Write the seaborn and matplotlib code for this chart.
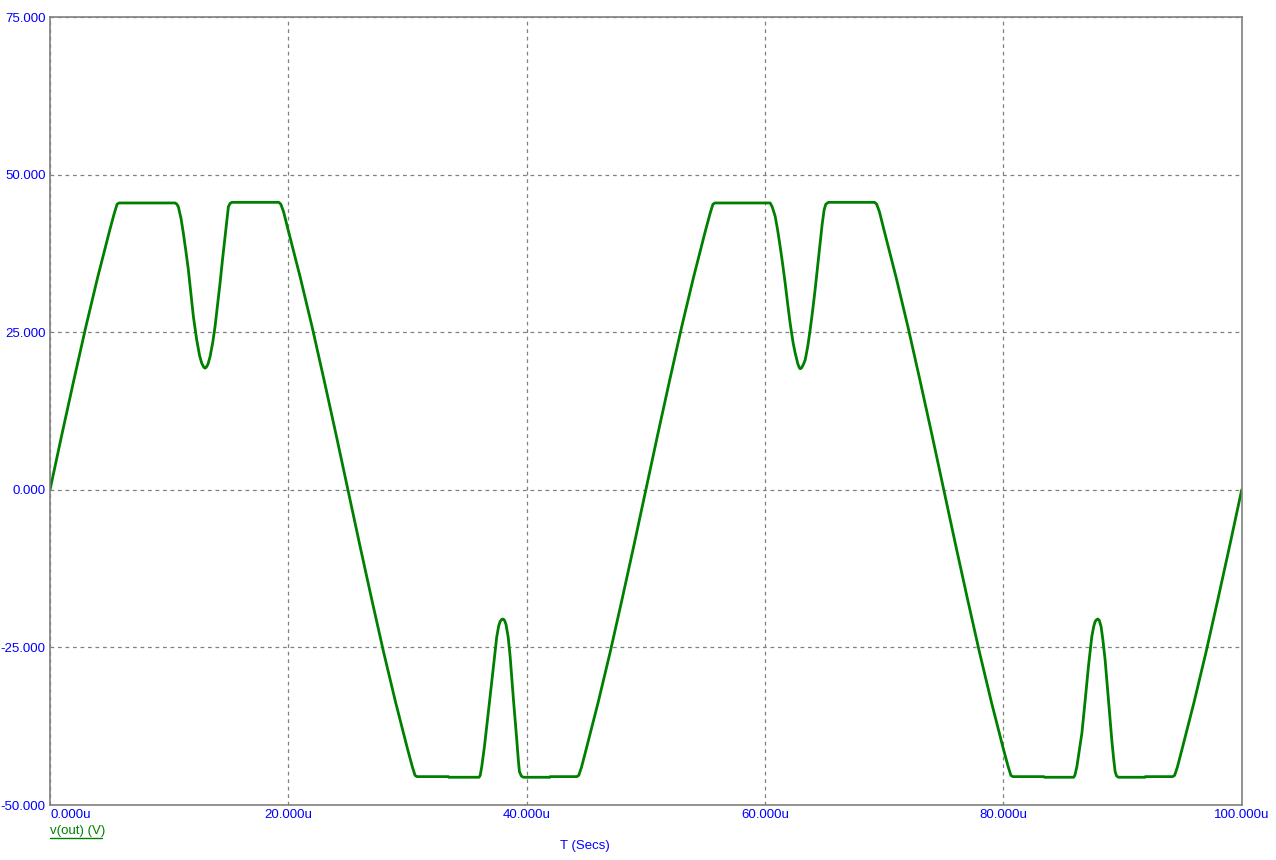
import pandas as pd
import matplotlib
matplotlib.use("Agg")
import matplotlib.pyplot as plt
import seaborn as sns

# time in microseconds
t_us = [0, 1.0, 2.0, 3.0, 4.0, 5.0, 5.4, 5.63, 5.8,
        10.5, 10.65, 10.77, 11.0, 11.19, 11.4, 11.61, 11.82, 12.03, 12.31, 12.55, 12.73, 12.9,
        13.0, 13.1, 13.25, 13.43, 13.65, 13.85, 14.06, 14.27, 14.48, 14.69, 14.85, 14.97, 15.1, 15.25,
        19.2, 19.37, 19.6, 20.0, 21.0, 22.0, 23.0, 24.0, 25.0, 26.0, 27.0, 28.0, 29.0, 30.0,
        30.4, 30.63, 30.8, 33.43, 33.45,
        36.0, 36.1, 36.23, 36.45, 36.65, 36.93, 37.21, 37.49, 37.65, 37.77, 37.88, 37.99, 38.1,
        38.18, 38.27, 38.45, 38.61, 38.89, 39.17, 39.3, 39.39, 39.55, 39.72,
        41.96, 41.98, 44.2, 44.37, 44.6, 45.0, 46.0, 47.0, 48.0, 49.0, 50.0,
        51.0, 52.0, 53.0, 54.0, 55.0, 55.4, 55.63, 55.8,
        60.43, 60.6, 60.85, 61.05, 61.27, 61.48, 61.69, 61.9, 62.11, 62.35, 62.53, 62.75, 62.87,
        62.95, 63.05, 63.2, 63.37, 63.58, 63.79, 64.0, 64.2, 64.42, 64.62, 64.8, 64.96, 65.1, 65.32,
        69.2, 69.37, 69.6, 70.0, 71.0, 72.0, 73.0, 74.0, 75.0, 76.0, 77.0, 78.0, 79.0, 80.0,
        80.4, 80.63, 80.8, 83.4, 83.45,
        85.9, 86.0, 86.17, 86.4, 86.59, 86.87, 87.14, 87.42, 87.58, 87.7, 87.82, 87.93, 88.05,
        88.2, 88.35, 88.54, 88.82, 89.1, 89.25, 89.38, 89.5, 89.66,
        91.9, 91.92, 94.2, 94.37, 94.6, 95.0, 96.0, 97.0, 98.0, 99.0, 100.0]
v_out = [0, 8.8, 17.4, 25.8, 33.7, 41.1, 43.9, 45.3, 45.5,
         45.5, 45.3, 44.9, 43.0, 40.7, 37.9, 34.9, 31.2, 27.5, 23.8, 21.3, 20.1, 19.45,
         19.3, 19.4, 19.9, 21.1, 23.3, 25.9, 29.3, 32.8, 36.6, 40.2, 43.0, 44.9, 45.4, 45.6,
         45.6, 45.3, 44.1, 41.1, 33.7, 25.8, 17.4, 8.8, 0.0, -8.8, -17.4, -25.8, -33.7, -41.1,
         -43.9, -45.3, -45.5, -45.5, -45.6,
         -45.6, -45.3, -43.9, -40.8, -37.5, -32.8, -28.0, -23.3, -21.6, -20.9, -20.6, -20.5, -20.6,
         -20.9, -21.4, -23.4, -26.4, -33.3, -39.7, -42.9, -44.7, -45.4, -45.6,
         -45.6, -45.5, -45.5, -45.3, -44.0, -41.1, -33.7, -25.8, -17.4, -8.8, 0.0,
         8.8, 17.4, 25.8, 33.7, 41.1, 43.9, 45.3, 45.5,
         45.5, 44.9, 43.4, 41.3, 38.6, 35.8, 32.8, 29.5, 26.4, 23.4, 21.7, 20.0, 19.4,
         19.2, 19.3, 19.8, 20.6, 22.7, 25.4, 28.5, 31.7, 35.5, 39.1, 42.2, 44.4, 45.3, 45.6,
         45.6, 45.3, 44.1, 41.1, 33.7, 25.8, 17.4, 8.8, 0.0, -8.8, -17.4, -25.8, -33.7, -41.1,
         -43.9, -45.3, -45.5, -45.5, -45.6,
         -45.6, -45.3, -43.9, -41.0, -38.6, -33.3, -28.0, -23.3, -21.7, -20.9, -20.6, -20.5, -20.7,
         -21.7, -23.8, -27.0, -33.3, -39.7, -42.6, -44.7, -45.4, -45.6,
         -45.6, -45.5, -45.5, -45.3, -44.0, -41.1, -33.7, -25.8, -17.4, -8.8, 0.0]

x_ticks = [0, 20, 40, 60, 80, 100]
y_ticks = [-50, -25, 0, 25, 50, 75]

df = pd.DataFrame({"t": t_us, "v": v_out})

sns.set_style("white")
plt.rcParams['font.family'] = ['Liberation Sans', 'DejaVu Sans']

fig = plt.figure(figsize=(12.76, 8.6), dpi=100)
ax = fig.add_axes([50 / 1276, 55 / 860, 1191.7 / 1276, 788 / 860])

sns.lineplot(data=df, x="t", y="v", ax=ax, color="#008000", linewidth=2.0,
             estimator=None, sort=False)

ax.set_xlim(0, 100)
ax.set_ylim(-50, 75)
ax.set_xticks(x_ticks)
ax.set_yticks(y_ticks)
ax.set_xticklabels([f"{x:.3f}u" for x in x_ticks])
ax.set_yticklabels([f"{y:.3f}" for y in y_ticks])
ax.tick_params(length=0, labelsize=9.5, labelcolor="#0000FF", pad=3)
ax.get_xticklabels()[0].set_ha("left")
ax.set_xlabel("")
ax.set_ylabel("")
ax.grid(True, linestyle=(0, (3, 3)), color="#808080", linewidth=0.9)
for s in ax.spines.values():
    s.set_color("#808080")
    s.set_linewidth(1.2)

fig.text(585 / 1276, 1 - 846 / 860, "T (Secs)", color="#0000FF", fontsize=9.5,
         ha="center", va="center")
fig.text(50 / 1276, 1 - 831 / 860, "v(out) (V)", color="#008000", fontsize=9.5,
         ha="left", va="center")
fig.add_artist(plt.Line2D([50 / 1276, 102 / 1276], [1 - 838 / 860, 1 - 838 / 860],
                          color="#008000", linewidth=1))

plt.savefig("out.png", dpi=100)
